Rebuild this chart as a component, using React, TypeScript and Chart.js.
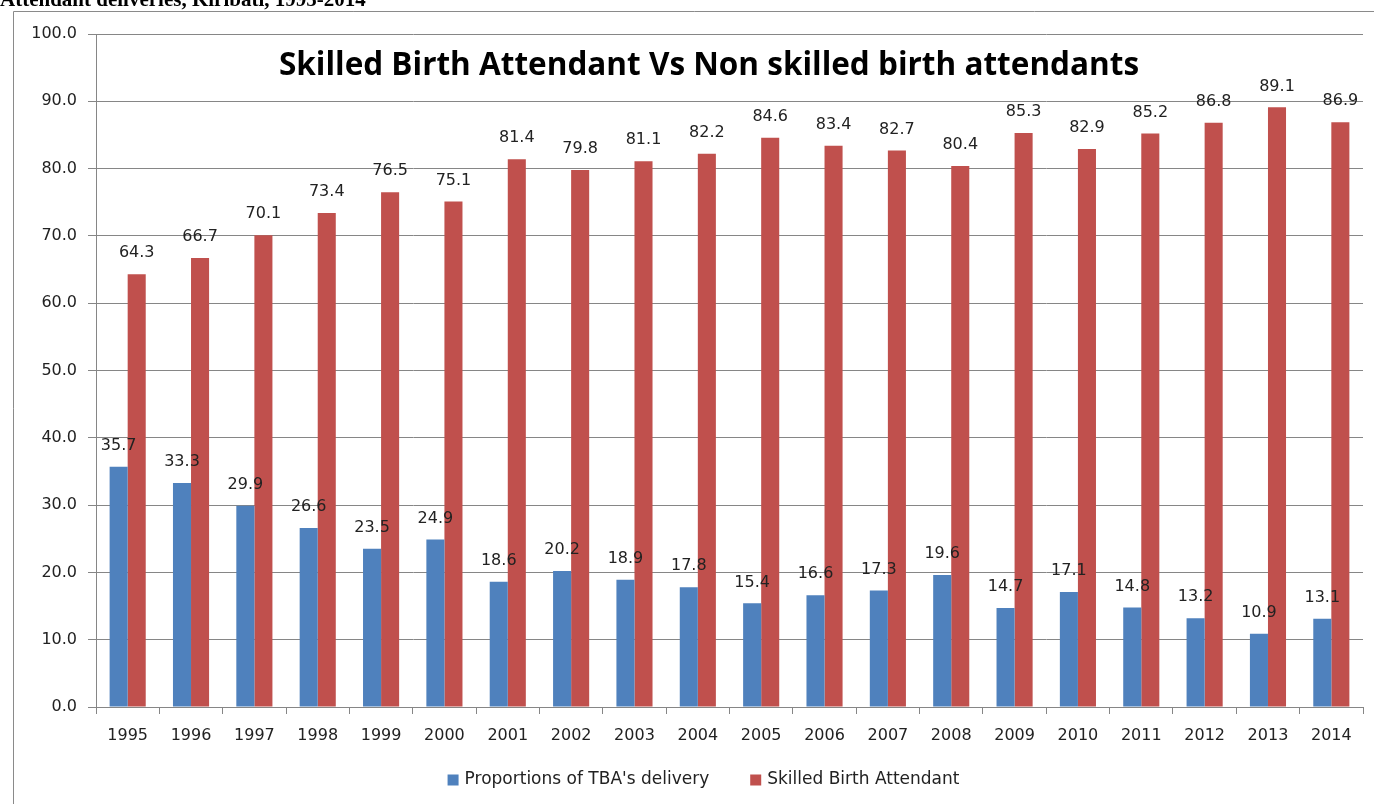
import React, { useEffect, useRef } from "react";
import { Chart, registerables } from "chart.js";

Chart.register(...registerables);

const years = ["1995","1996","1997","1998","1999","2000","2001","2002","2003","2004","2005","2006","2007","2008","2009","2010","2011","2012","2013","2014"];
const tbaShare = [35.7,33.3,29.9,26.6,23.5,24.9,18.6,20.2,18.9,17.8,15.4,16.6,17.3,19.6,14.7,17.1,14.8,13.2,10.9,13.1];
const skilledShare = [64.3,66.7,70.1,73.4,76.5,75.1,81.4,79.8,81.1,82.2,84.6,83.4,82.7,80.4,85.3,82.9,85.2,86.8,89.1,86.9];
const seriesNames = ["Proportions of TBA's delivery", "Skilled Birth Attendant"];
const seriesColors = ["#4F81BD", "#C0504D"];
const chartTitle = "Skilled Birth Attendant Vs Non skilled birth attendants";
const pageHeading = "Attendant deliveries, Kiribati, 1995-2014";

const FONT = "'DejaVu Sans', Verdana, sans-serif";

const decorPlugin = {
  id: "decor",
  beforeDraw(chart: any) {
    const ctx = chart.ctx;
    ctx.save();
    ctx.fillStyle = "#ffffff";
    ctx.fillRect(0, 0, chart.width, chart.height);
    ctx.fillStyle = "#000";
    ctx.font = "bold 21px 'Liberation Serif', 'Times New Roman', serif";
    ctx.textBaseline = "alphabetic";
    ctx.textAlign = "left";
    ctx.fillText(pageHeading, 0, 6);
    ctx.strokeStyle = "#8a8a8a";
    ctx.lineWidth = 1;
    ctx.beginPath();
    ctx.moveTo(13.5, chart.height + 2);
    ctx.lineTo(13.5, 11.5);
    ctx.lineTo(chart.width + 2, 11.5);
    ctx.stroke();
    ctx.restore();
  },
  beforeDatasetsDraw(chart: any) {
    const ctx = chart.ctx;
    ctx.save();
    ctx.fillStyle = "#000";
    ctx.font = "bold 31.5px 'Open Sans', 'Noto Sans', sans-serif";
    ctx.textAlign = "center";
    ctx.textBaseline = "middle";
    ctx.fillText(chartTitle, 709, 66);
    ctx.restore();
  },
  afterDatasetsDraw(chart: any) {
    const ctx = chart.ctx;
    ctx.save();
    ctx.fillStyle = "#222";
    ctx.font = "16px " + FONT;
    ctx.textAlign = "center";
    ctx.textBaseline = "middle";
    chart.data.datasets.forEach((ds: any, i: number) => {
      const meta = chart.getDatasetMeta(i);
      meta.data.forEach((el: any, j: number) => {
        ctx.fillText(Number(ds.data[j]).toFixed(1), el.x, el.y - 21);
      });
    });
    ctx.restore();
  },
  afterDraw(chart: any) {
    const ctx = chart.ctx;
    ctx.save();
    ctx.font = "17px " + FONT;
    ctx.textBaseline = "middle";
    ctx.textAlign = "left";
    const box = 11;
    const gap = 6;
    const itemGap = 41;
    const widths = seriesNames.map((n) => box + gap + ctx.measureText(n).width);
    const total = widths.reduce((a, b) => a + b, 0) + itemGap * (seriesNames.length - 1);
    let x = 703.5 - total / 2;
    const y = 780;
    seriesNames.forEach((n, i) => {
      ctx.fillStyle = seriesColors[i];
      ctx.fillRect(x, y - box / 2, box, box);
      ctx.fillStyle = "#222";
      ctx.fillText(n, x + box + gap, y);
      x += widths[i] + itemGap;
    });
    ctx.restore();
  },
};

export default function App() {
  const ref = useRef<HTMLCanvasElement | null>(null);
  useEffect(() => {
    document.body.style.margin = "0";
    if (!ref.current) return;
    const chart = new Chart(ref.current, {
      type: "bar",
      data: {
        labels: years,
        datasets: [
          { label: seriesNames[0], data: tbaShare, backgroundColor: seriesColors[0], categoryPercentage: 0.57, barPercentage: 1 },
          { label: seriesNames[1], data: skilledShare, backgroundColor: seriesColors[1], categoryPercentage: 0.57, barPercentage: 1 },
        ],
      },
      options: {
        responsive: false,
        animation: false,
        layout: { padding: { left: 0, top: 34, right: 11, bottom: 52 } },
        plugins: { legend: { display: false }, title: { display: false }, tooltip: { enabled: false } },
        scales: {
          x: {
            grid: { drawOnChartArea: false, offset: true, tickLength: 7, color: "#868686" },
            border: { color: "#868686" },
            ticks: { font: { family: FONT, size: 16 }, color: "#222", padding: 12 },
            afterFit(scale: any) { scale.height = 45; },
          },
          y: {
            min: 0,
            max: 100,
            ticks: { stepSize: 10, font: { family: FONT, size: 16 }, color: "#222", padding: 11, callback: (v: any) => Number(v).toFixed(1) },
            grid: { color: "#868686", tickLength: 8 },
            border: { color: "#868686" },
            afterFit(scale: any) { scale.width = 96; },
          },
        },
      },
      plugins: [decorPlugin],
    });
    return () => chart.destroy();
  }, []);
  return (
    <div style={{ width: 1374, height: 804, position: "relative", overflow: "hidden" }}>
      <canvas ref={ref} width={1374} height={804} style={{ display: "block" }} />
    </div>
  );
}
